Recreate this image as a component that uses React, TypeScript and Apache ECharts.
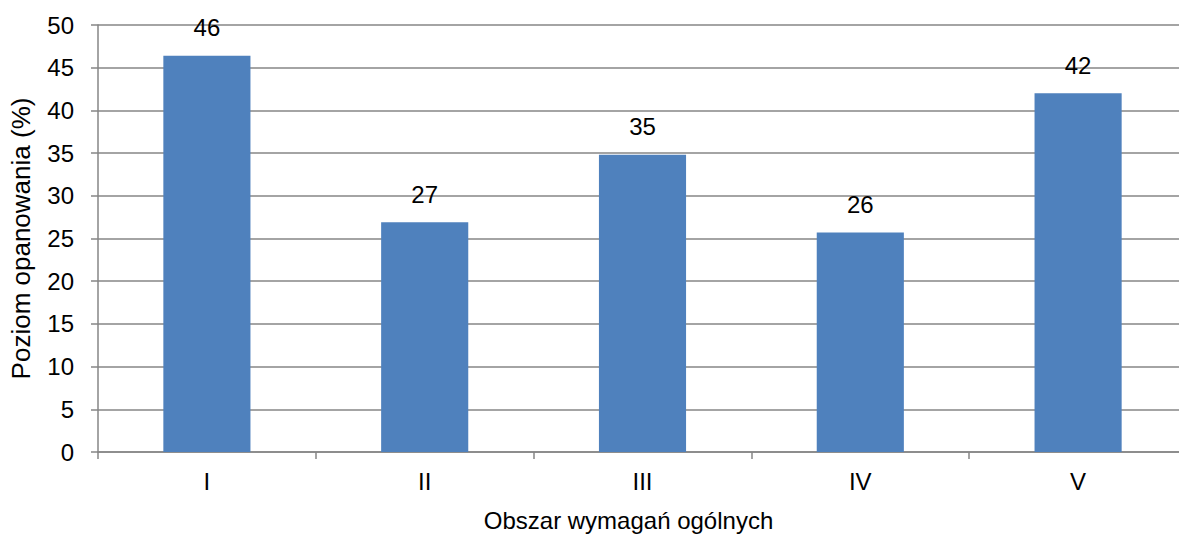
import React, { useEffect, useRef } from "react";
import * as echarts from "echarts";

const categories = ["I", "II", "III", "IV", "V"];
const values = [46.4, 26.9, 34.8, 25.7, 42.0];
const yMin = 0;
const yMax = 50;
const yInterval = 5;
const xAxisTitle = "Obszar wymagań ogólnych";
const yAxisTitle = "Poziom opanowania (%)";

const FONT = "'Liberation Sans', Arial, sans-serif";
const GRID = "#868686";

export default function App() {
  const ref = useRef<HTMLDivElement>(null);
  useEffect(() => {
    if (!ref.current) return;
    const chart = echarts.init(ref.current, null, { renderer: "svg" });
    chart.setOption({
      animation: false,
      backgroundColor: "#ffffff",
      textStyle: { fontFamily: FONT },
      grid: { left: 97, top: 25, width: 1090, height: 430, containLabel: false },
      xAxis: {
        type: "category",
        data: categories,
        boundaryGap: true,
        name: xAxisTitle,
        nameLocation: "middle",
        nameGap: 56,
        nameTextStyle: { fontSize: 24, color: "#000", fontFamily: FONT, padding: [0, 28, 0, 0] },
        axisLine: { lineStyle: { color: GRID, width: 1.5 } },
        axisTick: { show: true, alignWithLabel: false, length: 7, lineStyle: { color: GRID, width: 1.5 } },
        axisLabel: { fontSize: 24, color: "#000", fontFamily: FONT, margin: 17 },
      },
      yAxis: {
        type: "value",
        min: yMin,
        max: yMax,
        interval: yInterval,
        name: yAxisTitle,
        nameLocation: "middle",
        nameGap: 64,
        nameTextStyle: { fontSize: 26, color: "#000", fontFamily: FONT },
        axisLine: { show: true, lineStyle: { color: GRID, width: 1.5 } },
        axisTick: { show: true, length: 7, lineStyle: { color: GRID, width: 1.5 } },
        splitLine: { show: true, lineStyle: { color: GRID, width: 1.5 } },
        axisLabel: { fontSize: 24, color: "#000", fontFamily: FONT, margin: 24 },
      },
      series: [
        {
          type: "bar",
          data: values,
          barWidth: "40%",
          itemStyle: { color: "#4F81BD" },
          label: {
            show: true,
            position: "top",
            distance: 16,
            fontSize: 24,
            color: "#000",
            fontFamily: FONT,
            formatter: (p: any) => String(Math.round(p.value)),
          },
        },
      ],
    });
    return () => chart.dispose();
  }, []);
  return (
    <div
      style={{ position: "fixed", left: 0, top: 0, width: 1179, height: 537, overflow: "hidden", background: "#fff" }}
    >
      <div ref={ref} style={{ width: 1200, height: 537 }} />
    </div>
  );
}
